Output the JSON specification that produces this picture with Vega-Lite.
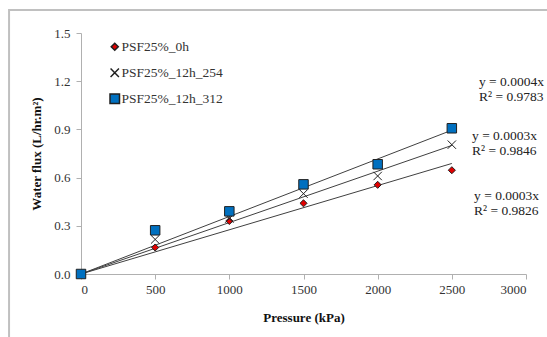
{
  "$schema": "https://vega.github.io/schema/vega-lite/v6.json",
  "width": 445,
  "height": 241,
  "autosize": {"type": "none"},
  "padding": {"left": 81, "top": 33, "right": 21, "bottom": 63},
  "background": "white",
  "config": {"view": {"stroke": null}, "font": "Liberation Serif"},
  "datasets": {
    "points": [
      {"series": "PSF25%_0h", "pressure": 0, "flux": 0},
      {"series": "PSF25%_0h", "pressure": 500, "flux": 0.165},
      {"series": "PSF25%_0h", "pressure": 1000, "flux": 0.33},
      {"series": "PSF25%_0h", "pressure": 1500, "flux": 0.44},
      {"series": "PSF25%_0h", "pressure": 2000, "flux": 0.555},
      {"series": "PSF25%_0h", "pressure": 2500, "flux": 0.646},
      {"series": "PSF25%_12h_254", "pressure": 0, "flux": 0},
      {"series": "PSF25%_12h_254", "pressure": 500, "flux": 0.215},
      {"series": "PSF25%_12h_254", "pressure": 1000, "flux": 0.345},
      {"series": "PSF25%_12h_254", "pressure": 1500, "flux": 0.5},
      {"series": "PSF25%_12h_254", "pressure": 2000, "flux": 0.61},
      {"series": "PSF25%_12h_254", "pressure": 2500, "flux": 0.805},
      {"series": "PSF25%_12h_312", "pressure": 0, "flux": 0},
      {"series": "PSF25%_12h_312", "pressure": 500, "flux": 0.272},
      {"series": "PSF25%_12h_312", "pressure": 1000, "flux": 0.39},
      {"series": "PSF25%_12h_312", "pressure": 1500, "flux": 0.558},
      {"series": "PSF25%_12h_312", "pressure": 2000, "flux": 0.683},
      {"series": "PSF25%_12h_312", "pressure": 2500, "flux": 0.907}
    ],
    "trends": [
      {"series": "PSF25%_0h", "pressure": 0, "flux": 0},
      {"series": "PSF25%_0h", "pressure": 2500, "flux": 0.688},
      {"series": "PSF25%_12h_254", "pressure": 0, "flux": 0},
      {"series": "PSF25%_12h_254", "pressure": 2500, "flux": 0.8},
      {"series": "PSF25%_12h_312", "pressure": 0, "flux": 0},
      {"series": "PSF25%_12h_312", "pressure": 2500, "flux": 0.895}
    ],
    "labels": [
      {"pressure": 2683, "flux": 1.195, "text": "y = 0.0004x"},
      {"pressure": 2683, "flux": 1.1, "text": "R² = 0.9783"},
      {"pressure": 2636, "flux": 0.859, "text": "y = 0.0003x"},
      {"pressure": 2636, "flux": 0.765, "text": "R² = 0.9846"},
      {"pressure": 2650, "flux": 0.485, "text": "y = 0.0003x"},
      {"pressure": 2650, "flux": 0.392, "text": "R² = 0.9826"}
    ],
    "frame": [
      {"x1": -485, "x2": 4000, "y1": 1.643, "y2": -1}
    ]
  },
  "layer": [
    {
      "data": {"name": "frame"},
      "mark": {"type": "rect", "fill": null, "stroke": "#c0c0c0", "strokeWidth": 2, "clip": false},
      "encoding": {
        "x": {"field": "x1", "type": "quantitative", "scale": {"domain": [0, 3000]}},
        "x2": {"field": "x2"},
        "y": {"field": "y1", "type": "quantitative", "scale": {"domain": [0, 1.5]}},
        "y2": {"field": "y2"}
      }
    },
    {
      "data": {"name": "trends"},
      "mark": {"type": "line", "color": "#404040", "strokeWidth": 1},
      "encoding": {
        "x": {"field": "pressure", "type": "quantitative"},
        "y": {"field": "flux", "type": "quantitative"},
        "detail": {"field": "series"}
      }
    },
    {
      "data": {"name": "points"},
      "mark": {"type": "point", "filled": true, "stroke": "#202020", "strokeWidth": 1, "opacity": 1},
      "encoding": {
        "x": {
          "field": "pressure", "type": "quantitative",
          "scale": {"domain": [0, 3000], "nice": false},
          "axis": {
            "title": "Pressure (kPa)", "values": [0, 500, 1000, 1500, 2000, 2500, 3000], "format": "d",
            "grid": false, "domainColor": "#b0b0b0", "tickColor": "#b0b0b0", "tickSize": 5,
            "labelFont": "Liberation Serif", "labelFontSize": 13, "labelColor": "#333333", "labelPadding": 4,
            "titleFont": "Liberation Serif", "titleFontSize": 13, "titleFontWeight": "bold", "titleColor": "#111111",
            "titlePadding": 15
          }
        },
        "y": {
          "field": "flux", "type": "quantitative",
          "scale": {"domain": [0, 1.5], "nice": false},
          "axis": {
            "title": "Water flux (L/hr.m²)", "values": [0, 0.3, 0.6, 0.9, 1.2, 1.5], "format": ".1f",
            "grid": false, "domainColor": "#b0b0b0", "tickColor": "#b0b0b0", "tickSize": 5,
            "labelFont": "Liberation Serif", "labelFontSize": 13, "labelColor": "#333333", "labelPadding": 6,
            "titleFont": "Liberation Serif", "titleFontSize": 13, "titleFontWeight": "bold", "titleColor": "#111111",
            "titlePadding": 10
          }
        },
        "fill": {
          "field": "series", "type": "nominal",
          "scale": {"domain": ["PSF25%_0h", "PSF25%_12h_254", "PSF25%_12h_312"], "range": ["#e00000", "#000000", "#0070c0"]},
          "legend": {
            "title": null, "orient": "none", "legendX": 27, "legendY": 7,
            "labelFont": "Liberation Serif", "labelFontSize": 13.5, "labelColor": "#333333",
            "rowPadding": 11, "labelOffset": 0
          }
        },
        "shape": {
          "field": "series", "type": "nominal",
          "scale": {"domain": ["PSF25%_0h", "PSF25%_12h_254", "PSF25%_12h_312"], "range": ["diamond", "M-1,-1L1,1M-1,1L1,-1", "square"]},
          "legend": {
            "title": null, "orient": "none", "legendX": 27, "legendY": 7,
            "labelFont": "Liberation Serif", "labelFontSize": 13.5, "labelColor": "#333333",
            "rowPadding": 11, "labelOffset": 0
          }
        },
        "size": {
          "field": "series", "type": "nominal",
          "scale": {"domain": ["PSF25%_0h", "PSF25%_12h_254", "PSF25%_12h_312"], "range": [50, 90, 60]},
          "legend": {
            "title": null, "orient": "none", "legendX": 27, "legendY": 7,
            "labelFont": "Liberation Serif", "labelFontSize": 13.5, "labelColor": "#333333",
            "rowPadding": 11, "labelOffset": 0
          }
        }
      }
    },
    {
      "data": {"name": "labels"},
      "mark": {"type": "text", "align": "left", "baseline": "middle", "font": "Liberation Serif", "fontSize": 13.5, "color": "#222222", "clip": false},
      "encoding": {
        "x": {"field": "pressure", "type": "quantitative"},
        "y": {"field": "flux", "type": "quantitative"},
        "text": {"field": "text"}
      }
    }
  ]
}
